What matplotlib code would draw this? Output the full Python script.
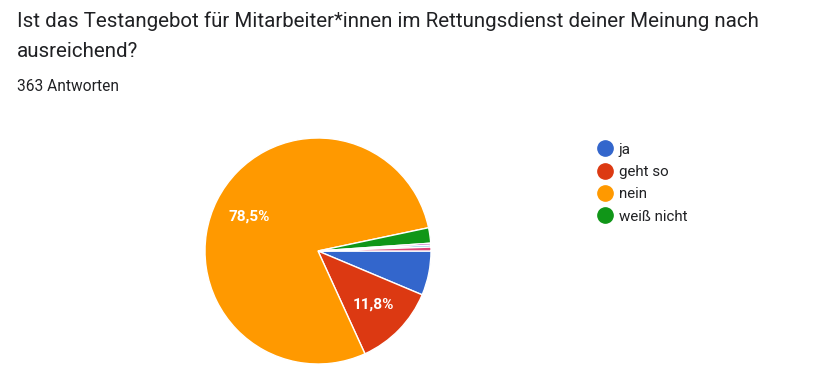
import matplotlib.pyplot as plt
from matplotlib.lines import Line2D

# Antworten (363 gesamt)
labels = ["ja", "geht so", "nein", "weiß nicht", "andere 1", "andere 2", "andere 3"]
counts = [23, 43, 285, 8, 1, 1, 2]
colors = ["#3366cc", "#dc3912", "#ff9900", "#109618", "#990099", "#0099c6", "#dd4477"]
legend_n = 4

title_lines = ["Ist das Testangebot für Mitarbeiter*innen im Rettungsdienst deiner Meinung nach",
               "ausreichend?"]
subtitle = "363 Antworten"

plt.rcParams['font.family'] = ['Roboto', 'DejaVu Sans']

fig = plt.figure(figsize=(8.35, 3.76), dpi=100)

# pie area: center approx (318, 251) px, radius 113 px
W, H = 835, 376
cx, cy, r = 318, 251, 113
ax = fig.add_axes([(cx - r) / W, (H - cy - r) / H, 2 * r / W, 2 * r / H])

def fmt(p):
    return f"{p:.1f}%".replace(".", ",") if p >= 10 else ""

wedges, texts, autotexts = ax.pie(
    counts, colors=colors, startangle=0, counterclock=False,
    autopct=fmt, pctdistance=0.68,
    wedgeprops=dict(edgecolor="white", linewidth=1),
    textprops=dict(color="white", fontsize=11, fontweight="bold"),
)
ax.set_xlim(-1, 1)
ax.set_ylim(-1, 1)
ax.set_aspect("equal")

fig.text(17 / W, 1 - 27 / H, title_lines[0], fontsize=14.8, color="#202124",
         va="baseline", ha="left")
fig.text(17 / W, 1 - 57 / H, title_lines[1], fontsize=14.8, color="#202124",
         va="baseline", ha="left")
fig.text(17 / W, 1 - 91 / H, subtitle, fontsize=11.2, color="#202124",
         va="baseline", ha="left")

handles = [Line2D([], [], marker="o", linestyle="none", markersize=11,
                  markerfacecolor=c, markeredgecolor=c) for c in colors[:legend_n]]
fig.legend(handles, labels[:legend_n], loc="upper left",
           bbox_to_anchor=(589 / W, 1 - 135 / H), frameon=False,
           fontsize=10.9, labelcolor="#202124", handletextpad=0.35,
           labelspacing=0.55, borderpad=0, handlelength=1.1)

fig.savefig("out.png", dpi=100)
